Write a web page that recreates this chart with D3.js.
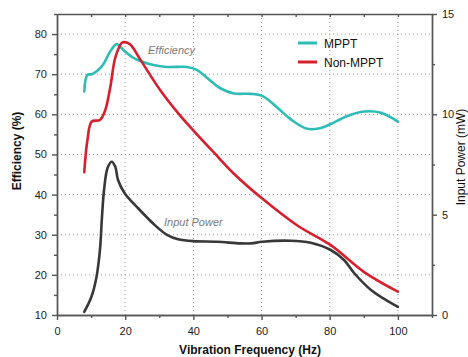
<!DOCTYPE html>
<html>
<head>
<meta charset="utf-8">
<script src="https://cdn.jsdelivr.net/npm/d3@7"></script>
<style>
  body { margin: 0; background: #fff; }
  svg { font-family: "Liberation Sans", Arial, Helvetica, sans-serif; }
</style>
</head>
<body>
<div id="vis"></div>
<script>
const FRAME_WIDTH = 468;
const FRAME_HEIGHT = 357;
const MARGINS = {left: 57, right: 36, top: 14, bottom: 42};

// data
const mpptFreq = [8, 8.9, 10.2, 12, 13.6, 15.5, 17.5, 19.5, 22.4, 24.4, 28.3, 32.3, 38.1, 41, 44, 47.9, 51.9, 56.8, 60.2, 64.6, 68.5, 73.4, 77.4, 80.3, 85.2, 90.1, 95, 100];
const mpptEff  = [65.7, 69.8, 70, 71, 72.5, 75.5, 77.5, 76, 74.1, 73.3, 72.3, 71.8, 71.8, 71.1, 69.1, 66.5, 65.2, 65.1, 64.6, 61.7, 58.8, 56.4, 56.6, 57.6, 59.6, 60.7, 60.4, 58.2];

const nonFreq = [8, 8.9, 10.2, 12.6, 14.1, 15.6, 17.1, 19, 19.8, 21.5, 24.4, 30.3, 36.2, 40.1, 46, 51.9, 60.2, 70.5, 80.3, 90.1, 100];
const nonEff  = [45.6, 53.4, 58.2, 58.6, 60.9, 66.6, 74.1, 77.8, 78, 77.4, 73.7, 66, 59.6, 55.9, 50.5, 45.2, 39, 32.3, 27.4, 20.7, 15.8];

const powerFreq = [8, 10.1, 11.6, 12.6, 13.2, 13.8, 14.8, 16, 17.1, 17.9, 19.9, 23.8, 28.7, 32.4, 35.5, 40, 47, 53.8, 57, 60.2, 68.5, 74.4, 80.3, 84.2, 87.2, 92.1, 100];
const powerMw   = [0.16, 0.91, 1.91, 3.24, 4.9, 6.23, 7.31, 7.64, 7.39, 6.73, 6.06, 5.32, 4.48, 3.98, 3.78, 3.68, 3.65, 3.57, 3.57, 3.65, 3.7, 3.6, 3.24, 2.74, 2.08, 1.25, 0.41];

const xTicks = [0, 20, 40, 60, 80, 100];
const effTicks = [10, 20, 30, 40, 50, 60, 70, 80];
const powerTicks = [0, 5, 10, 15];

const VIS_WIDTH = FRAME_WIDTH - MARGINS.left - MARGINS.right;
const VIS_HEIGHT = FRAME_HEIGHT - MARGINS.top - MARGINS.bottom;

const FRAME = d3.select("#vis")
  .append("svg")
    .attr("width", FRAME_WIDTH)
    .attr("height", FRAME_HEIGHT);

const X_SCALE = d3.scaleLinear().domain([0, 110]).range([MARGINS.left, MARGINS.left + VIS_WIDTH]);
const Y_EFF = d3.scaleLinear().domain([10, 85]).range([MARGINS.top + VIS_HEIGHT, MARGINS.top]);
const Y_POW = d3.scaleLinear().domain([0, 15]).range([MARGINS.top + VIS_HEIGHT, MARGINS.top]);

// dotted grid
FRAME.append("g")
  .selectAll("line")
  .data(effTicks.slice(1))
  .enter()
  .append("line")
    .attr("x1", X_SCALE(0))
    .attr("x2", X_SCALE(110))
    .attr("y1", d => Y_EFF(d))
    .attr("y2", d => Y_EFF(d))
    .attr("stroke", "#9a9a9a")
    .attr("stroke-dasharray", "1,3");

FRAME.append("g")
  .selectAll("line")
  .data(xTicks.slice(1))
  .enter()
  .append("line")
    .attr("x1", d => X_SCALE(d))
    .attr("x2", d => X_SCALE(d))
    .attr("y1", Y_EFF(10))
    .attr("y2", Y_EFF(85))
    .attr("stroke", "#9a9a9a")
    .attr("stroke-dasharray", "1,3");

// axes
function styleAxis(g) {
  g.selectAll("path, line").attr("stroke", "#555").attr("stroke-width", 1.4);
  g.selectAll("text").attr("fill", "#222").attr("font-size", "11px");
}

const minorX = d3.range(10, 111, 20);

FRAME.append("g")
  .attr("transform", "translate(0," + Y_EFF(10) + ")")
  .call(d3.axisBottom(X_SCALE).tickValues(xTicks).tickSize(5).tickSizeOuter(0).tickPadding(7))
  .call(styleAxis);
FRAME.append("g")
  .attr("transform", "translate(0," + Y_EFF(10) + ")")
  .call(d3.axisBottom(X_SCALE).tickValues(minorX).tickSize(3).tickSizeOuter(0).tickFormat(""))
  .call(styleAxis);

FRAME.append("g")
  .attr("transform", "translate(0," + Y_EFF(85) + ")")
  .call(d3.axisBottom(X_SCALE).tickValues(d3.range(10, 101, 10)).tickSize(3).tickSizeOuter(0).tickFormat(""))
  .call(styleAxis);

FRAME.append("g")
  .attr("transform", "translate(" + X_SCALE(0) + ",0)")
  .call(d3.axisLeft(Y_EFF).tickValues(effTicks).tickSize(5).tickSizeOuter(0).tickPadding(5))
  .call(styleAxis);
FRAME.append("g")
  .attr("transform", "translate(" + X_SCALE(0) + ",0)")
  .call(d3.axisLeft(Y_EFF).tickValues(d3.range(15, 86, 10)).tickSize(3).tickSizeOuter(0).tickFormat(""))
  .call(styleAxis);

FRAME.append("g")
  .attr("transform", "translate(" + X_SCALE(110) + ",0)")
  .call(d3.axisRight(Y_POW).tickValues(powerTicks).tickSize(5).tickSizeOuter(0).tickPadding(5))
  .call(styleAxis);
FRAME.append("g")
  .attr("transform", "translate(" + X_SCALE(110) + ",0)")
  .call(d3.axisRight(Y_POW).tickValues([2.5, 7.5, 12.5]).tickSize(3).tickSizeOuter(0).tickFormat(""))
  .call(styleAxis);

// lines
const effLine = d3.line()
  .x(d => X_SCALE(d[0]))
  .y(d => Y_EFF(d[1]))
  .curve(d3.curveCatmullRom.alpha(0.5));

const powLine = d3.line()
  .x(d => X_SCALE(d[0]))
  .y(d => Y_POW(d[1]))
  .curve(d3.curveCatmullRom.alpha(0.5));

FRAME.append("path")
  .datum(d3.zip(powerFreq, powerMw))
  .attr("d", powLine)
  .attr("fill", "none")
  .attr("stroke", "#383838")
  .attr("stroke-width", 2.6)
  .attr("stroke-linecap", "round");

FRAME.append("path")
  .datum(d3.zip(mpptFreq, mpptEff))
  .attr("d", effLine)
  .attr("fill", "none")
  .attr("stroke", "#2dbcb6")
  .attr("stroke-width", 2.6)
  .attr("stroke-linecap", "round");

FRAME.append("path")
  .datum(d3.zip(nonFreq, nonEff))
  .attr("d", effLine)
  .attr("fill", "none")
  .attr("stroke", "#d81f2e")
  .attr("stroke-width", 2.6)
  .attr("stroke-linecap", "round");

// annotations
FRAME.append("text")
  .attr("x", 148).attr("y", 54)
  .attr("font-size", "11px").attr("font-style", "italic").attr("fill", "#7a7a7a")
  .text("Efficiency");

FRAME.append("text")
  .attr("x", 164).attr("y", 226)
  .attr("font-size", "11px").attr("font-style", "italic").attr("fill", "#7a7a7a")
  .text("Input Power");

// legend
const legend = [["MPPT", "#2dbcb6"], ["Non-MPPT", "#d81f2e"]];
legend.forEach((d, i) => {
  const y = 43 + i * 19;
  FRAME.append("line")
    .attr("x1", 298).attr("x2", 317)
    .attr("y1", y).attr("y2", y)
    .attr("stroke", d[1]).attr("stroke-width", 3);
  FRAME.append("text")
    .attr("x", 324).attr("y", y + 4.5)
    .attr("font-size", "12px").attr("fill", "#111")
    .text(d[0]);
});

// axis titles
FRAME.append("text")
  .attr("x", 250).attr("y", 354)
  .attr("text-anchor", "middle")
  .attr("font-size", "12px").attr("font-weight", "bold").attr("fill", "#111")
  .text("Vibration Frequency (Hz)");

FRAME.append("text")
  .attr("transform", "translate(21,151) rotate(-90)")
  .attr("text-anchor", "middle")
  .attr("font-size", "12px").attr("font-weight", "bold").attr("fill", "#111")
  .text("Efficiency (%)");

FRAME.append("text")
  .attr("transform", "translate(464.5,157) rotate(-90)")
  .attr("text-anchor", "middle")
  .attr("font-size", "12px").attr("fill", "#111")
  .text("Input Power (mW)");
</script>
</body>
</html>
